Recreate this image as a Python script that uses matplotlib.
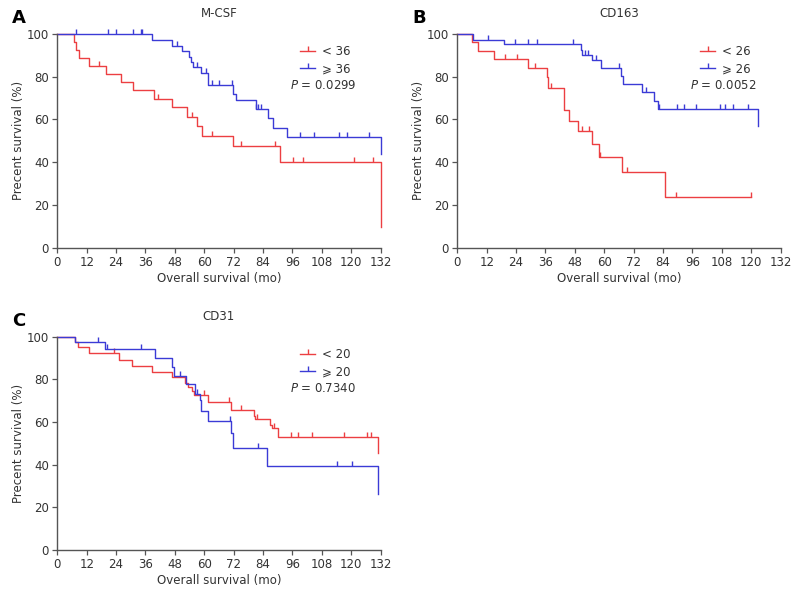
import numpy as np
import matplotlib
matplotlib.use("Agg")
import matplotlib.pyplot as plt
from matplotlib.path import Path
from matplotlib.lines import Line2D

# 1. Data (step times in months, survival in %)
# Panel A: M-CSF
a_low_t = [0, 6.8, 7.5, 8.8, 13.1, 19.7, 25.9, 30.8, 39.6, 46.7, 52.8, 56.9, 58.9, 71.8, 90.9, 132]
a_low_s = [100, 96.3, 92.6, 88.9, 85.2, 81.5, 77.6, 73.8, 69.8, 65.8, 61.2, 57.1, 52.3, 47.4, 40.0, 9.8]
a_low_cens = [16.9, 41.0, 54.8, 63.0, 75.0, 89.0, 96.1, 100.2, 121.2, 129.0]
a_high_t = [0, 38.5, 46.9, 50.8, 53.8, 54.7, 55.5, 58.7, 61.5, 71.8, 72.8, 81.0, 86.1, 87.9, 93.9, 132]
a_high_s = [100, 97.1, 94.5, 92.2, 89.4, 87.0, 84.7, 81.9, 76.3, 72.1, 69.0, 64.9, 60.7, 56.0, 51.8, 44.0]
a_high_cens = [7.6, 20.8, 24.0, 30.8, 34.0, 34.7, 49.0, 56.9, 60.8, 63.2, 66.0, 71.2,
               81.3, 82.0, 83.0, 99.1, 104.8, 115.0, 118.4, 127.2]

# Panel B: CD163
b_low_t = [0, 5.85, 8.6, 15.1, 29.0, 36.6, 37.2, 43.7, 45.7, 49.2, 54.8, 58.0, 67.4, 84.8, 120]
b_low_s = [100, 96.2, 92.2, 88.3, 84.1, 79.9, 74.9, 64.4, 59.3, 54.8, 48.3, 42.3, 35.5, 23.6, 23.6]
b_low_cens = [19.5, 24.5, 31.7, 38.1, 51.0, 53.8, 58.3, 69.4, 89.1, 119.9]
b_high_t = [0, 6.5, 18.9, 50.5, 51.0, 54.8, 58.5, 66.8, 67.8, 75.3, 80.3, 82.1, 122.9]
b_high_s = [100, 97.3, 95.3, 92.5, 90.3, 87.7, 84.1, 80.2, 76.8, 72.7, 68.5, 64.9, 56.8]
b_high_cens = [12.4, 23.7, 29.0, 32.5, 47.4, 52.2, 53.3, 56.7, 66.0, 76.9, 82.5, 89.5,
               92.5, 97.4, 107.4, 109.4, 112.7, 118.5]

# Panel C: CD31
c_low_t = [0, 7.2, 8.6, 13.1, 25.2, 30.6, 38.5, 46.9, 52.1, 53.5, 54.8, 55.8, 61.5,
           70.8, 80.4, 80.8, 86.8, 87.8, 90.0, 131.1]
c_low_s = [100, 97.3, 95.0, 92.2, 89.1, 86.3, 83.3, 80.9, 78.5, 76.4, 74.5, 72.8, 69.5,
           65.6, 62.8, 61.4, 58.6, 57.4, 53.1, 45.6]
c_low_cens = [23.3, 59.9, 70.2, 75.0, 81.5, 88.5, 95.4, 98.4, 104.1, 117.0, 126.3, 128.1]
c_high_t = [0, 7.2, 19.5, 39.9, 46.7, 47.7, 52.5, 56.2, 58.2, 58.6, 61.6, 70.9, 71.9, 85.5, 131.1]
c_high_s = [100, 97.3, 94.1, 90.2, 85.9, 81.6, 78.0, 73.0, 70.5, 65.4, 60.4, 54.7, 47.7, 39.4, 26.1]
c_high_cens = [16.5, 20.4, 34.2, 50.1, 57.0, 70.5, 82.0, 114.0, 120.2]

titles = ["M-CSF", "CD163", "CD31"]
letters = ["A", "B", "C"]
low_labels = ["< 36", "< 26", "< 20"]
high_labels = ["\u2a7e 36", "\u2a7e 26", "\u2a7e 20"]
p_values = ["0.0299", "0.0052", "0.7340"]
xticks = np.arange(0, 133, 12)
yticks = np.arange(0, 101, 20)

RED = "#ec3f42"
BLUE = "#3b3bd6"
AXCOL = "#555555"
TXT = "#333333"
tick_marker = Path([(0, 0), (0, 1)])

plt.rcParams["font.family"] = ["DejaVu Sans", "Noto Sans"]


def surv_at(times, surv, t):
    i = np.searchsorted(times, t, side="right") - 1
    return np.array(surv)[i]


def draw_km(ax, times, surv, cens, color):
    ax.step(times, surv, where="post", color=color, lw=1.0, clip_on=False)
    ax.plot(cens, surv_at(times, surv, cens), linestyle="none", marker=tick_marker,
            markersize=7, color=color, markeredgewidth=1.0, clip_on=False)


# 2. Figure with three panels (fig coords from the reference pixels)
fig = plt.figure(figsize=(8, 5.97), dpi=100)
axA = fig.add_axes([57.3 / 800, 1 - 247.7 / 597, 323.3 / 800, 213.7 / 597])
axB = fig.add_axes([457.3 / 800, 1 - 247.7 / 597, 323.3 / 800, 213.7 / 597])
axC = fig.add_axes([57.3 / 800, 1 - 550.0 / 597, 323.3 / 800, 213.3 / 597])

panels = [
    (axA, a_low_t, a_low_s, a_low_cens, a_high_t, a_high_s, a_high_cens),
    (axB, b_low_t, b_low_s, b_low_cens, b_high_t, b_high_s, b_high_cens),
    (axC, c_low_t, c_low_s, c_low_cens, c_high_t, c_high_s, c_high_cens),
]

for k, (ax, lt, ls, lc, ht, hs, hc) in enumerate(panels):
    draw_km(ax, lt, ls, lc, RED)
    draw_km(ax, ht, hs, hc, BLUE)

    ax.set_xlim(0, 132)
    ax.set_ylim(0, 100)
    ax.set_xticks(xticks)
    ax.set_yticks(yticks)
    ax.tick_params(direction="out", length=3.5, width=0.9, color=AXCOL,
                   labelsize=8.5, labelcolor=TXT, pad=2.5)
    for side in ["top", "right"]:
        ax.spines[side].set_visible(False)
    for side in ["left", "bottom"]:
        ax.spines[side].set_color(AXCOL)
        ax.spines[side].set_linewidth(1.0)

    ax.set_xlabel("Overall survival (mo)", fontsize=8.5, color=TXT, labelpad=2)
    ax.set_ylabel("Precent survival (%)", fontsize=8.5, color=TXT, labelpad=1)
    ax.set_title(titles[k], fontsize=8.5, color=TXT, pad=12)
    ax.text(-0.14, 1.075, letters[k], transform=ax.transAxes, fontsize=13,
            fontweight="bold", color="black", va="center")

    handles = [
        Line2D([], [], color=RED, lw=1.0, marker=tick_marker, markersize=7),
        Line2D([], [], color=BLUE, lw=1.0, marker=tick_marker, markersize=7),
    ]
    ax.legend(handles, [low_labels[k], high_labels[k]], loc="upper left",
              bbox_to_anchor=(0.725, 0.985), frameon=False, fontsize=8.5,
              handlelength=1.3, handletextpad=0.6, labelspacing=0.35,
              borderpad=0.2, labelcolor=TXT)
    ax.text(0.822, 0.757, "$P$ = " + p_values[k], transform=ax.transAxes,
            fontsize=8.5, color=TXT, ha="center", va="center")

fig.savefig("out.png", dpi=100)
